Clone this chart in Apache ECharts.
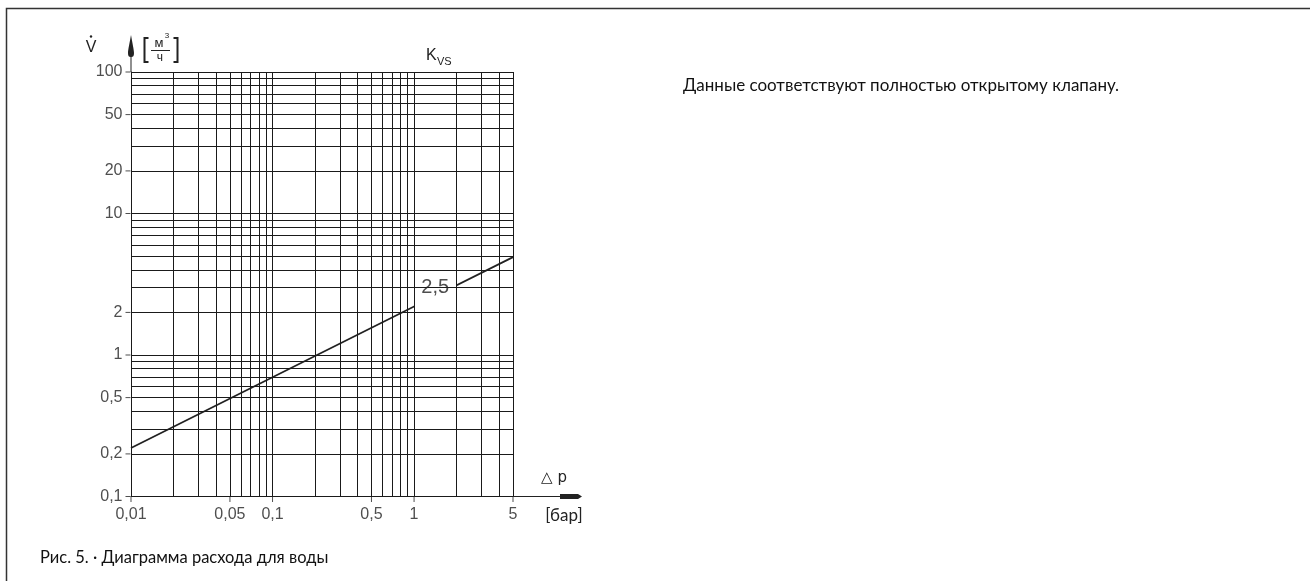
<!DOCTYPE html>
<html><head><meta charset="utf-8">
<script src="https://cdn.jsdelivr.net/npm/echarts@6/dist/echarts.min.js"></script>
<style>html,body{margin:0;padding:0;background:#fff}#c{width:1310px;height:581px}</style>
</head><body><div id="c"></div>
<script>
// ---- data ----
const dpValues = [0.01, 1, 5];            // Δp, бар
const flowValues = [0.22, 2.2, 4.92];      // V, м³/ч
const xGridValues = [0.01,0.02,0.03,0.04,0.05,0.06,0.07,0.08,0.09,0.1,0.2,0.3,0.4,0.5,0.6,0.7,0.8,0.9,1,2,3,4,5];
const yGridValues = [0.1,0.2,0.3,0.4,0.5,0.6,0.7,0.8,0.9,1,2,3,4,5,6,7,8,9,10,20,30,40,50,60,70,80,90,100];
const xTickValues = [0.01, 0.05, 0.1, 0.5, 1, 5];
const xTickLabels = ['0,01', '0,05', '0,1', '0,5', '1', '5'];
const yTickValues = [0.1, 0.2, 0.5, 1, 2, 10, 20, 50, 100];
const yTickLabels = ['0,1', '0,2', '0,5', '1', '2', '10', '20', '50', '100'];
const boxDp = [1, 2];
const boxFlow = [0.3, 5];
const kvsLabel = '2,5';
const kvsLabelPos = [1.41, 3.0];

const axisFont = 'Liberation Sans';
const ink = '#222';
const gridInk = '#1a1a1a';

const chart = echarts.init(document.getElementById('c'), null, {renderer: 'canvas'});
const option = {
  animation: false,
  backgroundColor: '#fff',
  grid: {left: 131, right: 797, top: 72, bottom: 84.5},
  xAxis: {
    type: 'log', logBase: 10, min: xTickValues[0], max: xTickValues[xTickValues.length - 1],
    axisLine: {show: true, lineStyle: {color: ink, width: 1},
      symbol: ['none', 'path://M2.5,0 L5,4 L5,22 L3,22 L3,69 L2,69 L2,22 L0,22 L0,4 Z'],
      symbolSize: [5, 69], symbolOffset: [0, 34.5]},
    axisTick: {show: false}, axisLabel: {show: false}, splitLine: {show: false}, minorSplitLine: {show: false}
  },
  yAxis: {
    type: 'log', logBase: 10, min: yTickValues[0], max: yTickValues[yTickValues.length - 1],
    axisLine: {show: true, lineStyle: {color: ink, width: 1},
      symbol: ['none', 'path://M3,0 C4,6 6,15 6,18 C6,21 5,22 3.5,22 L3.5,37 L2.5,37 L2.5,22 C1,22 0,21 0,18 C0,15 2,6 3,0 Z'],
      symbolSize: [6, 37], symbolOffset: [0, 18.5]},
    axisTick: {show: false}, axisLabel: {show: false}, splitLine: {show: false}
  },
  series: [
    { // grid
      type: 'line', data: [], z: 1, silent: true,
      markLine: {silent: true, symbol: ['none', 'none'], label: {show: false},
        lineStyle: {color: gridInk, width: 1, type: 'solid'}, animation: false,
        data: xGridValues.map(v => ({xAxis: v})).concat(yGridValues.map(v => ({yAxis: v})))}
    },
    { // flow line
      type: 'line', z: 3, silent: true, showSymbol: false, symbol: 'none',
      lineStyle: {color: ink, width: 1.8},
      data: dpValues.map((d, i) => [d, flowValues[i]])
    },
    { // white label box
      type: 'custom', z: 4, silent: true, clip: false,
      data: [[boxDp[0], boxFlow[0], boxDp[1], boxFlow[1]]],
      renderItem: function (params, api) {
        const p0 = api.coord([api.value(0), api.value(1)]);
        const p1 = api.coord([api.value(2), api.value(3)]);
        return {type: 'rect', shape: {x: Math.min(p0[0], p1[0]), y: Math.min(p0[1], p1[1]),
          width: Math.abs(p1[0] - p0[0]), height: Math.abs(p1[1] - p0[1])},
          style: {fill: '#fff', stroke: null}};
      }
    },
    { // box edges redrawn
      type: 'line', data: [], z: 5, silent: true,
      markLine: {silent: true, symbol: ['none', 'none'], label: {show: false},
        lineStyle: {color: gridInk, width: 1, type: 'solid'},
        data: boxDp.map(v => ({xAxis: v})).concat(boxFlow.map(v => ({yAxis: v})))}
    },
    { // Kvs label
      type: 'scatter', z: 6, silent: true, clip: false, symbolSize: 0,
      data: [kvsLabelPos],
      label: {show: true, position: 'inside', formatter: kvsLabel, fontSize: 20, fontFamily: axisFont, color: ink}
    },
    { // x ticks + labels
      type: 'scatter', z: 6, silent: true, clip: false, symbol: 'rect', symbolSize: [1, 5], symbolOffset: [0, 3],
      itemStyle: {color: ink},
      data: xTickValues.map(v => [v, yTickValues[0]]),
      label: {show: true, position: 'bottom', distance: 5, fontSize: 16, fontFamily: axisFont, color: ink,
        formatter: p => xTickLabels[p.dataIndex]}
    },
    { // y ticks + labels
      type: 'scatter', z: 6, silent: true, clip: false, symbol: 'rect', symbolSize: [5, 1], symbolOffset: [-3, 0],
      itemStyle: {color: ink},
      data: yTickValues.map(v => [xTickValues[0], v]),
      label: {show: true, position: 'left', distance: 3, fontSize: 16, fontFamily: axisFont, color: ink,
        formatter: p => yTickLabels[p.dataIndex]}
    }
  ],
  graphic: [
    {type: 'polyline', silent: true, shape: {points: [[1310, 8.5], [6.5, 8.5], [6.5, 581]]}, style: {stroke: '#333', lineWidth: 1.5, fill: null}},
    // V-dot
    {type: 'text', silent: true, style: {x: 91, y: 48, text: 'V', font: '16px "Liberation Sans"', fill: ink, align: 'center', verticalAlign: 'middle'}},
    {type: 'circle', silent: true, shape: {cx: 91, cy: 36.5, r: 1.2}, style: {fill: ink}},
    // [m3/h]
    {type: 'polyline', silent: true, shape: {points: [[148.5, 38], [144.5, 38], [144.5, 62], [148.5, 62]]}, style: {stroke: ink, lineWidth: 2, fill: null}},
    {type: 'polyline', silent: true, shape: {points: [[173.5, 38], [177.5, 38], [177.5, 62], [173.5, 62]]}, style: {stroke: ink, lineWidth: 2, fill: null}},
    {type: 'text', silent: true, style: {x: 159, y: 43, text: 'м', font: '13px "Liberation Sans"', fill: ink, align: 'center', verticalAlign: 'middle'}},
    {type: 'text', silent: true, style: {x: 167, y: 36, text: '3', font: '8px "Liberation Sans"', fill: ink, align: 'center', verticalAlign: 'middle'}},
    {type: 'line', silent: true, shape: {x1: 151, y1: 50.5, x2: 170, y2: 50.5}, style: {stroke: ink, lineWidth: 1}},
    {type: 'text', silent: true, style: {x: 160, y: 58, text: 'ч', font: '12px "Liberation Sans"', fill: ink, align: 'center', verticalAlign: 'middle'}},
    // Kvs
    {type: 'text', silent: true, style: {x: 426, y: 56, text: 'K', font: '16px "Liberation Sans"', fill: ink, align: 'left', verticalAlign: 'middle'}},
    {type: 'text', silent: true, style: {x: 437, y: 62, text: 'VS', font: '11px "Liberation Sans"', fill: ink, align: 'left', verticalAlign: 'middle'}},
    // Δp and unit
    {type: 'text', silent: true, style: {x: 554, y: 478, text: '△ p', font: '15px "DejaVu Sans"', fill: ink, align: 'center', verticalAlign: 'middle'}},
    {type: 'text', silent: true, style: {x: 564, y: 516, text: '[бар]', font: '17px "Lato"', fill: ink, align: 'center', verticalAlign: 'middle'}},
    // right note
    {type: 'text', silent: true, style: {x: 683, y: 86, text: 'Данные соответствуют полностью открытому клапану.', font: '17px "Lato"', fill: '#111', align: 'left', verticalAlign: 'middle'}},
    // caption
    {type: 'text', silent: true, style: {x: 40, y: 558, text: 'Рис. 5. · Диаграмма расхода для воды', font: '16.5px "Lato"', fill: '#111', align: 'left', verticalAlign: 'middle'}}
  ]
};
chart.setOption(option);
</script>
</body></html>
